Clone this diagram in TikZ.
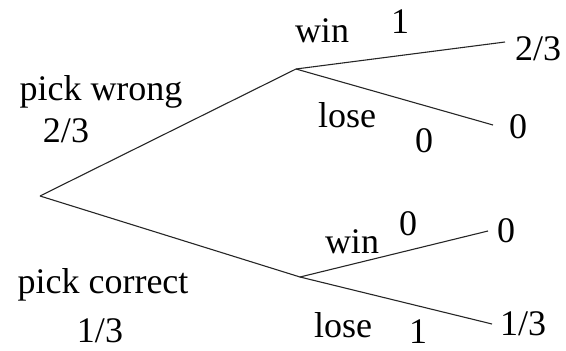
\documentclass[tikz,border=0pt]{standalone}
\usepackage{fontspec}
\setmainfont{Liberation Serif}
\usepackage{tikz}
\usetikzlibrary{positioning}

\begin{document}
\begin{tikzpicture}[
        x=1pt, y=-1pt,
        lbl/.style={font=\fontsize{36}{42}\selectfont, inner sep=0pt, anchor=base},
        branch/.style={draw=black!85, line width=1.1pt}
    ]
        \useasboundingbox (0,0) rectangle (566,351);

        % Tree points
        \coordinate (root) at (40,196);
        \coordinate (wrong) at (296,69);
        \coordinate (correct) at (300,277);
        \coordinate (wwEnd) at (505,42);
        \coordinate (wlEnd) at (493,125);
        \coordinate (cwEnd) at (488,231);
        \coordinate (clEnd) at (492,324);

        % First pick
        \node[lbl] (pickW) at (101,100) {pick wrong};
        \node[lbl] (probW) at (66,142) {2/3};
        \node[lbl] (pickC) at (103,293) {pick correct};
        \node[lbl] (probC) at (100,342) {1/3};

        % After wrong pick
        \node[lbl] (winW) at (322,42) {win};
        \node[lbl] (pWinW) at (400,33) {1};
        \node[lbl] (resWW) at (538,60) {2/3};
        \node[lbl] (loseW) at (347,127) {lose};
        \node[lbl] (pLoseW) at (424,152) {0};
        \node[lbl] (resWL) at (518,138) {0};

        % After correct pick
        \node[lbl] (winC) at (352,253) {win};
        \node[lbl] (pWinC) at (408,235) {0};
        \node[lbl] (resCW) at (506,242) {0};
        \node[lbl] (loseC) at (343,337) {lose};
        \node[lbl] (pLoseC) at (418,343) {1};
        \node[lbl] (resCL) at (523,335) {1/3};

        % Branches
        \draw[branch] (root) -- (wrong);
        \draw[branch] (root) -- (correct);
        \draw[branch] (wrong) -- (wwEnd);
        \draw[branch] (wrong) -- (wlEnd);
        \draw[branch] (correct) -- (cwEnd);
        \draw[branch] (correct) -- (clEnd);
    \end{tikzpicture}
\end{document}
